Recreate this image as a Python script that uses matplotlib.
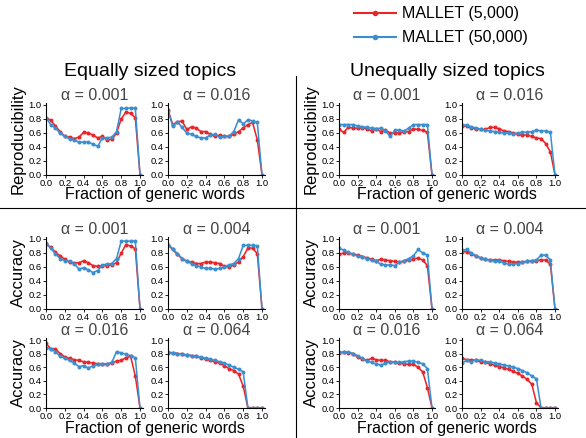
import numpy as np
import matplotlib
matplotlib.use("Agg")
import matplotlib.pyplot as plt
from matplotlib.lines import Line2D

plt.rcParams['font.family'] = ['Liberation Sans', 'DejaVu Sans']

# fraction of generic words
x = np.arange(21) * 0.05

# equal topics, reproducibility
rep_eq_001_r = [0.82, 0.78, 0.70, 0.62, 0.55, 0.54, 0.52, 0.54, 0.61, 0.60, 0.57, 0.53, 0.55, 0.50, 0.51, 0.60, 0.80, 0.90, 0.88, 0.82, 0.0]
rep_eq_001_b = [0.82, 0.72, 0.67, 0.60, 0.55, 0.52, 0.50, 0.47, 0.47, 0.47, 0.44, 0.41, 0.53, 0.53, 0.54, 0.62, 0.95, 0.95, 0.96, 0.96, 0.0]
rep_eq_016_r = [0.93, 0.72, 0.76, 0.77, 0.65, 0.69, 0.67, 0.62, 0.62, 0.58, 0.55, 0.57, 0.55, 0.55, 0.58, 0.62, 0.67, 0.72, 0.75, 0.50, 0.0]
rep_eq_016_b = [0.92, 0.70, 0.76, 0.68, 0.60, 0.58, 0.55, 0.53, 0.53, 0.57, 0.58, 0.54, 0.55, 0.56, 0.62, 0.79, 0.73, 0.79, 0.77, 0.75, 0.0]
# unequal topics, reproducibility
rep_un_001_r = [0.65, 0.61, 0.68, 0.67, 0.67, 0.67, 0.66, 0.63, 0.66, 0.62, 0.64, 0.60, 0.60, 0.60, 0.62, 0.62, 0.66, 0.65, 0.64, 0.61, 0.0]
rep_un_001_b = [0.72, 0.72, 0.72, 0.72, 0.70, 0.69, 0.68, 0.67, 0.66, 0.67, 0.63, 0.55, 0.64, 0.64, 0.63, 0.67, 0.72, 0.72, 0.72, 0.72, 0.0]
rep_un_016_r = [0.70, 0.70, 0.67, 0.66, 0.65, 0.65, 0.68, 0.68, 0.66, 0.63, 0.62, 0.60, 0.58, 0.57, 0.57, 0.55, 0.53, 0.52, 0.45, 0.33, 0.0]
rep_un_016_b = [0.72, 0.71, 0.69, 0.67, 0.65, 0.64, 0.63, 0.62, 0.61, 0.60, 0.60, 0.59, 0.60, 0.61, 0.61, 0.62, 0.64, 0.63, 0.63, 0.61, 0.0]
# equal topics, accuracy
acc_eq_001_r = [0.93, 0.88, 0.81, 0.76, 0.71, 0.67, 0.66, 0.66, 0.69, 0.66, 0.62, 0.61, 0.62, 0.62, 0.63, 0.66, 0.80, 0.92, 0.90, 0.86, 0.0]
acc_eq_001_b = [0.94, 0.87, 0.79, 0.72, 0.69, 0.68, 0.65, 0.57, 0.59, 0.56, 0.52, 0.55, 0.63, 0.64, 0.65, 0.72, 0.97, 0.97, 0.97, 0.97, 0.0]
acc_eq_004_r = [0.92, 0.85, 0.78, 0.72, 0.68, 0.67, 0.65, 0.65, 0.67, 0.67, 0.66, 0.65, 0.61, 0.60, 0.63, 0.67, 0.75, 0.87, 0.87, 0.79, 0.0]
acc_eq_004_b = [0.92, 0.86, 0.79, 0.72, 0.68, 0.65, 0.62, 0.60, 0.58, 0.58, 0.57, 0.58, 0.60, 0.63, 0.65, 0.72, 0.91, 0.91, 0.91, 0.90, 0.0]
acc_eq_016_r = [0.95, 0.87, 0.87, 0.80, 0.75, 0.73, 0.71, 0.70, 0.68, 0.67, 0.66, 0.65, 0.64, 0.64, 0.66, 0.69, 0.70, 0.74, 0.76, 0.47, 0.0]
acc_eq_016_b = [0.88, 0.87, 0.83, 0.76, 0.73, 0.70, 0.66, 0.61, 0.62, 0.59, 0.62, 0.64, 0.65, 0.65, 0.67, 0.83, 0.81, 0.79, 0.77, 0.74, 0.0]
acc_eq_064_r = [0.81, 0.81, 0.80, 0.79, 0.78, 0.77, 0.76, 0.74, 0.72, 0.70, 0.68, 0.66, 0.62, 0.58, 0.55, 0.50, 0.32, 0.0, 0.0, 0.0, 0.0]
acc_eq_064_b = [0.82, 0.81, 0.80, 0.79, 0.78, 0.77, 0.76, 0.75, 0.73, 0.72, 0.70, 0.68, 0.66, 0.63, 0.60, 0.57, 0.53, 0.0, 0.0, 0.0, 0.0]
# unequal topics, accuracy
acc_un_001_r = [0.78, 0.80, 0.80, 0.78, 0.77, 0.75, 0.73, 0.71, 0.69, 0.71, 0.70, 0.69, 0.68, 0.67, 0.68, 0.70, 0.71, 0.73, 0.70, 0.62, 0.0]
acc_un_001_b = [0.87, 0.84, 0.81, 0.78, 0.76, 0.75, 0.72, 0.70, 0.68, 0.64, 0.63, 0.63, 0.62, 0.67, 0.69, 0.72, 0.76, 0.85, 0.80, 0.77, 0.0]
acc_un_004_r = [0.82, 0.82, 0.79, 0.76, 0.73, 0.71, 0.70, 0.70, 0.70, 0.69, 0.68, 0.67, 0.67, 0.67, 0.68, 0.68, 0.69, 0.70, 0.70, 0.64, 0.0]
acc_un_004_b = [0.84, 0.85, 0.80, 0.76, 0.73, 0.71, 0.70, 0.68, 0.68, 0.66, 0.64, 0.64, 0.65, 0.67, 0.68, 0.69, 0.70, 0.77, 0.77, 0.70, 0.0]
acc_un_016_r = [0.81, 0.82, 0.81, 0.80, 0.75, 0.72, 0.70, 0.73, 0.71, 0.70, 0.70, 0.68, 0.67, 0.66, 0.65, 0.64, 0.64, 0.60, 0.53, 0.30, 0.0]
acc_un_016_b = [0.82, 0.82, 0.82, 0.80, 0.77, 0.73, 0.69, 0.67, 0.65, 0.63, 0.66, 0.68, 0.67, 0.67, 0.68, 0.69, 0.69, 0.67, 0.65, 0.58, 0.0]
acc_un_064_r = [0.73, 0.71, 0.71, 0.70, 0.68, 0.67, 0.65, 0.63, 0.61, 0.59, 0.57, 0.54, 0.51, 0.47, 0.42, 0.35, 0.08, 0.0, 0.0, 0.0, 0.0]
acc_un_064_b = [0.66, 0.70, 0.68, 0.71, 0.70, 0.68, 0.68, 0.66, 0.65, 0.63, 0.62, 0.60, 0.58, 0.55, 0.52, 0.47, 0.43, 0.0, 0.0, 0.0, 0.0]

RED = '#e8262a'
BLUE = '#3b8fd0'
W, H = 586, 438

fig = plt.figure(figsize=(W / 100, H / 100), dpi=100)

# pixel extents of the 0..1 data area
cols = [(46, 140), (168, 262), (339, 432), (462, 555)]
rows = [(105, 175), (239, 309), (340, 408)]

panels = [
    (0, 0, 'α = 0.001', rep_eq_001_r, rep_eq_001_b),
    (0, 1, 'α = 0.016', rep_eq_016_r, rep_eq_016_b),
    (0, 2, 'α = 0.001', rep_un_001_r, rep_un_001_b),
    (0, 3, 'α = 0.016', rep_un_016_r, rep_un_016_b),
    (1, 0, 'α = 0.001', acc_eq_001_r, acc_eq_001_b),
    (1, 1, 'α = 0.004', acc_eq_004_r, acc_eq_004_b),
    (1, 2, 'α = 0.001', acc_un_001_r, acc_un_001_b),
    (1, 3, 'α = 0.004', acc_un_004_r, acc_un_004_b),
    (2, 0, 'α = 0.016', acc_eq_016_r, acc_eq_016_b),
    (2, 1, 'α = 0.064', acc_eq_064_r, acc_eq_064_b),
    (2, 2, 'α = 0.016', acc_un_016_r, acc_un_016_b),
    (2, 3, 'α = 0.064', acc_un_064_r, acc_un_064_b),
]

ticks = np.arange(0, 1.01, 0.2)
band = 0.03
for r, c, title, red, blue in panels:
    x0, x1 = cols[c]
    y0, y1 = rows[r]
    pad = 0.03
    ax = fig.add_axes([x0 / W, 1 - y1 / H, (x1 - x0) * (1 + pad) / W, (y1 - y0) * (1 + pad) / H])
    red = np.array(red)
    blue = np.array(blue)
    ax.fill_between(x, np.clip(red - band, 0, None), red + band, color=RED, alpha=0.12, lw=0)
    ax.fill_between(x, np.clip(blue - band, 0, None), blue + band, color=BLUE, alpha=0.12, lw=0)
    ax.plot(x, red, color=RED, lw=1.1, marker='o', ms=1.8)
    ax.plot(x, blue, color=BLUE, lw=1.1, marker='o', ms=1.8)
    ax.set_xlim(0, 1.03)
    ax.set_ylim(0, 1.03)
    ax.set_xticks(ticks)
    ax.set_yticks(ticks)
    ax.set_xticklabels(['%.1f' % v for v in ticks])
    ax.set_yticklabels(['%.1f' % v for v in ticks])
    ax.tick_params(labelsize=6.8, length=2, width=0.6, pad=1)
    for s in ['top', 'right']:
        ax.spines[s].set_visible(False)
    for s in ['left', 'bottom']:
        ax.spines[s].set_linewidth(0.8)
    ax.set_title(title, fontsize=11.5, color='#444444', pad=1 if r < 2 else -4)
    if c in (0, 2):
        ax.set_ylabel('Reproducibility' if r == 0 else 'Accuracy', fontsize=12, labelpad=2)

# x labels
for cx in (155 / W, 447 / W):
    fig.text(cx, 1 - 195 / H, 'Fraction of generic words', ha='center', va='center', fontsize=11.5)
    fig.text(cx, 1 - 429 / H, 'Fraction of generic words', ha='center', va='center', fontsize=11.5)

# section headings
fig.text(150 / W, 1 - 71 / H, 'Equally sized topics', ha='center', va='center', fontsize=14)
fig.text(447 / W, 1 - 71 / H, 'Unequally sized topics', ha='center', va='center', fontsize=14)

# dividers
fig.add_artist(Line2D([296 / W, 296 / W], [0, 1 - 76 / H], color='black', lw=0.8))
fig.add_artist(Line2D([0, 1], [1 - 208 / H, 1 - 208 / H], color='black', lw=0.8))

handles = [Line2D([], [], color=RED, lw=1.5, marker='o', ms=3),
           Line2D([], [], color=BLUE, lw=1.5, marker='o', ms=3)]
fig.legend(handles, ['MALLET (5,000)', 'MALLET (50,000)'], loc='upper left',
           bbox_to_anchor=(340 / W, 1.018), frameon=False, fontsize=11.5,
           handlelength=2.6, handletextpad=0.4, labelspacing=0.55)

fig.savefig('out.png', dpi=100)
